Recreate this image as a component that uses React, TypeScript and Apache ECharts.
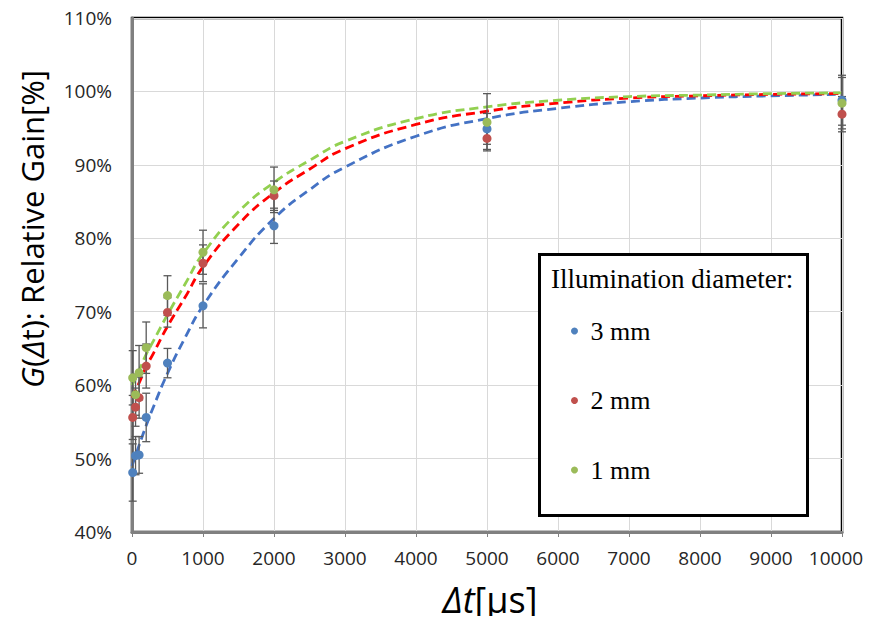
import React, { useEffect, useRef } from "react";
import * as echarts from "echarts";

// Measured delay times (µs)
const delays = [10, 50, 100, 200, 500, 1000, 2000, 5000, 10000];
// Relative gain (%) per illumination diameter
const gain3mm = [48.1, 50.4, 50.5, 55.6, 63.0, 70.8, 81.7, 94.9, 98.8];
const err3mm = [3.9, 2.6, 2.5, 3.3, 2.0, 3.0, 2.4, 2.1, 3.4];
const gain2mm = [55.6, 57.0, 58.3, 62.6, 69.9, 76.6, 85.8, 93.6, 96.9];
const err2mm = [3.0, 2.6, 2.8, 3.0, 2.0, 2.5, 2.0, 1.5, 2.4];
const gain1mm = [61.0, 58.7, 61.7, 65.1, 72.2, 78.1, 86.6, 95.8, 98.4];
const err1mm = [3.7, 2.8, 3.7, 3.5, 2.7, 3.0, 3.1, 3.9, 3.5];

// Fit curves
const fitT = [0, 100, 200, 300, 500, 750, 1000, 1500, 2000, 2500, 3000, 4000, 5000, 6000, 7000, 8000, 9000, 10000];
const fit3mm = [49.0, 51.8, 54.5, 57.0, 61.6, 66.5, 70.8, 77.3, 82.7, 86.6, 89.7, 93.9, 96.3, 97.7, 98.6, 99.1, 99.4, 99.6];
const fit2mm = [58.3, 60.3, 62.5, 64.3, 68.0, 72.0, 76.1, 81.9, 86.2, 89.4, 92.2, 95.5, 97.3, 98.4, 99.1, 99.4, 99.6, 99.7];
const fit1mm = [60.0, 62.0, 64.2, 66.0, 69.6, 73.8, 77.9, 83.6, 87.6, 90.6, 93.2, 96.3, 97.9, 98.8, 99.3, 99.5, 99.7, 99.8];

const seriesNames = ["3 mm", "2 mm", "1 mm"];
const yTicks = { min: 40, max: 110, interval: 10 };
const xTicks = { min: 0, max: 10000, interval: 1000 };

const markerColors = ["#4F81BD", "#C0504D", "#9BBB59"];
const fitColors = ["#4472C4", "#FF0000", "#92D050"];

const SANS = "'Open Sans', 'Liberation Sans', sans-serif";
const SERIF = "'Liberation Serif', 'DejaVu Serif', serif";

export default function App() {
  const ref = useRef<HTMLDivElement>(null);

  useEffect(() => {
    if (!ref.current) return;
    const chart = echarts.init(ref.current, undefined, { renderer: "svg" });

    const gains = [gain3mm, gain2mm, gain1mm];
    const errs = [err3mm, err2mm, err1mm];
    const fits = [fit3mm, fit2mm, fit1mm];

    const errorSeries = gains.map((g, k) => ({
      type: "custom",
      name: seriesNames[k] + " err",
      z: 3,
      encode: { x: 0, y: [1, 2] },
      data: delays.map((x, i) => [x, g[i] - errs[k][i], g[i] + errs[k][i]]),
      renderItem: (_params: any, api: any) => {
        const x = api.value(0);
        const lo = api.coord([x, api.value(1)]);
        const hi = api.coord([x, api.value(2)]);
        const w = 4;
        const style = { stroke: "#595959", lineWidth: 1.3 };
        return {
          type: "group",
          children: [
            { type: "line", shape: { x1: lo[0], y1: lo[1], x2: hi[0], y2: hi[1] }, style },
            { type: "line", shape: { x1: lo[0] - w, y1: lo[1], x2: lo[0] + w, y2: lo[1] }, style },
            { type: "line", shape: { x1: hi[0] - w, y1: hi[1], x2: hi[0] + w, y2: hi[1] }, style },
          ],
        };
      },
    }));

    const fitSeries = fits.map((f, k) => ({
      type: "line",
      name: seriesNames[k] + " fit",
      z: 2,
      smooth: true,
      showSymbol: false,
      symbol: "none",
      data: fitT.map((t, i) => [t, f[i]]),
      lineStyle: { color: fitColors[k], width: 2.8, type: [9, 5], cap: "butt" },
    }));

    const scatterSeries = gains.map((g, k) => ({
      type: "scatter",
      name: seriesNames[k],
      z: 4,
      symbolSize: 9,
      itemStyle: { color: markerColors[k], opacity: 1 },
      data: delays.map((x, i) => [x, g[i]]),
    }));

    chart.setOption({
      animation: false,
      grid: {
        left: 132,
        right: 31,
        top: 18,
        bottom: 92,
        show: true,
        borderColor: "#000",
        borderWidth: 2.5,
        backgroundColor: "#fff",
      },
      xAxis: {
        type: "value",
        min: xTicks.min,
        max: xTicks.max,
        interval: xTicks.interval,
        axisLine: { show: true, onZero: false, lineStyle: { color: "#808080", width: 3 } },
        axisTick: { show: true, length: 5, lineStyle: { color: "#808080", width: 1 } },
        axisLabel: {
          margin: 16,
          color: "#262626",
          fontSize: 19,
          fontFamily: SANS,
          formatter: (v: number) => (v === xTicks.max ? `{last|${v}}` : String(v)),
          rich: {
            last: { fontSize: 19, fontFamily: SANS, color: "#262626", padding: [0, 12, 0, 0] },
          },
        },
        splitLine: { show: true, lineStyle: { color: "#D9D9D9", width: 1 } },
      },
      yAxis: {
        type: "value",
        min: yTicks.min,
        max: yTicks.max,
        interval: yTicks.interval,
        axisLine: { show: true, onZero: false, lineStyle: { color: "#808080", width: 3 } },
        axisTick: { show: false },
        axisLabel: { margin: 20, color: "#262626", fontSize: 19, fontFamily: SANS, formatter: "{value}%" },
        splitLine: { show: true, lineStyle: { color: "#D9D9D9", width: 1 } },
      },
      legend: {
        data: seriesNames,
        orient: "vertical",
        left: 571,
        top: 316,
        padding: 0,
        itemGap: 39.5,
        itemWidth: 22,
        itemHeight: 7,
        icon: "circle",
        selectedMode: false,
        textStyle: { fontFamily: SERIF, fontSize: 26, color: "#000", lineHeight: 30 },
        z: 20,
      },
      graphic: [
        {
          type: "rect",
          z: 10,
          shape: { x: 539.5, y: 254.5, width: 268, height: 261 },
          style: { fill: "#fff", stroke: "#000", lineWidth: 3 },
        },
        {
          type: "text",
          z: 11,
          x: 551,
          y: 279,
          style: {
            text: "Illumination diameter:",
            fontFamily: SERIF,
            fontSize: 27,
            fill: "#000",
            align: "left",
            verticalAlign: "middle",
          },
        },
        {
          type: "text",
          z: 11,
          x: 32,
          y: 229,
          rotation: Math.PI / 2,
          style: {
            text: "{i|G}({i|Δ}t): Relative Gain[%]",
            fontFamily: SANS,
            fontSize: 31,
            fill: "#000",
            align: "center",
            verticalAlign: "middle",
            rich: {
              i: { fontFamily: SANS, fontSize: 31, fontStyle: "italic", fill: "#000" },
            },
          },
        },
        {
          type: "text",
          z: 11,
          x: 490,
          y: 599,
          style: {
            text: "{i|Δt}[μs]",
            fontFamily: SANS,
            fontSize: 36,
            fill: "#000",
            align: "center",
            verticalAlign: "middle",
            rich: {
              i: { fontFamily: SANS, fontSize: 36, fontStyle: "italic", fill: "#000" },
            },
          },
        },
      ],
      series: [...fitSeries, ...errorSeries, ...scatterSeries],
    });

    return () => chart.dispose();
  }, []);

  return <div ref={ref} style={{ width: 873, height: 624, margin: -8, background: "#fff" }} />;
}
